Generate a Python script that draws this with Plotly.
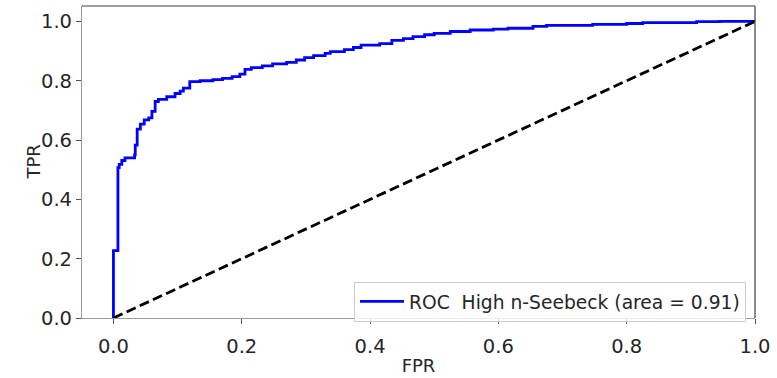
import numpy as np
import plotly.graph_objects as go

# ROC operating points (false positive rate, true positive rate)
fpr = [0.0, 0.0, 0.007, 0.009, 0.013, 0.018, 0.033, 0.034, 0.037, 0.042,
       0.048, 0.055, 0.060, 0.065, 0.070, 0.083, 0.096, 0.104, 0.109, 0.119,
       0.135, 0.155, 0.170, 0.185, 0.197, 0.205, 0.215, 0.232, 0.248, 0.270,
       0.285, 0.298, 0.312, 0.330, 0.338, 0.360, 0.374, 0.386, 0.415, 0.434,
       0.452, 0.467, 0.485, 0.500, 0.525, 0.556, 0.592, 0.615, 0.654, 0.675,
       0.747, 0.800, 0.825, 0.909, 0.945, 1.0]
tpr = [0.0, 0.227, 0.507, 0.518, 0.531, 0.540, 0.550, 0.583, 0.637, 0.654,
       0.668, 0.675, 0.697, 0.730, 0.737, 0.746, 0.757, 0.765, 0.775, 0.797,
       0.800, 0.804, 0.808, 0.814, 0.822, 0.838, 0.844, 0.850, 0.857, 0.862,
       0.870, 0.878, 0.885, 0.892, 0.898, 0.905, 0.912, 0.920, 0.925, 0.936,
       0.942, 0.949, 0.955, 0.960, 0.966, 0.971, 0.974, 0.977, 0.983, 0.987,
       0.990, 0.993, 0.996, 0.999, 1.0, 1.0]

chance_x = [0.0, 1.0]
chance_y = [0.0, 1.0]

# area under the step curve
f = np.array(fpr)
t = np.array(tpr)
roc_auc = float(np.sum(np.diff(f) * t[1:]))

x_ticks = [0.0, 0.2, 0.4, 0.6, 0.8, 1.0]
y_ticks = [0.0, 0.2, 0.4, 0.6, 0.8, 1.0]

FONT = "DejaVu Sans"
TXT = "#262626"

fig = go.Figure()
fig.add_trace(go.Scatter(
    x=fpr, y=tpr, mode="lines", line=dict(color="#0000ff", width=2.8, shape="hv"),
    name=f"ROC  High n-Seebeck (area = {roc_auc:.2f})",
))
fig.add_trace(go.Scatter(
    x=chance_x, y=chance_y, mode="lines",
    line=dict(color="black", width=2.8, dash="10px,4.5px"),
    showlegend=False,
))

fig.update_layout(
    width=777, height=378,
    margin=dict(l=82, r=22, t=6, b=49),
    paper_bgcolor="white", plot_bgcolor="white",
    font=dict(family=FONT, size=19, color=TXT),
    legend=dict(
        x=0.9866, y=-0.012, xanchor="right", yanchor="bottom",
        bgcolor="rgba(255,255,255,0.8)", bordercolor="#cccccc", borderwidth=1,
        font=dict(family=FONT, size=18.7, color=TXT),
        itemwidth=44,
    ),
    showlegend=True,
)
fig.update_xaxes(
    range=[-0.049, 1.0], tickvals=x_ticks, ticktext=[f"{v:.1f}" for v in x_ticks],
    showgrid=False, zeroline=False,
    showline=True, linecolor="#9a9a9a", linewidth=1.2,
    ticks="outside", ticklen=5, tickwidth=1, tickcolor="#555555",
    ticklabelstandoff=5,
    tickfont=dict(family=FONT, size=19.5, color=TXT),
    title=dict(text="FPR", font=dict(family=FONT, size=18, color=TXT), standoff=2),
)
fig.update_yaxes(
    range=[0.0, 1.052], tickvals=y_ticks, ticktext=[f"{v:.1f}" for v in y_ticks],
    showgrid=False, zeroline=False,
    showline=True, linecolor="#9a9a9a", linewidth=1.2,
    ticks="outside", ticklen=5, tickwidth=1, tickcolor="#555555",
    tickfont=dict(family=FONT, size=19.5, color=TXT),
)
# y-axis title placed beside the tick labels
fig.add_annotation(
    text="TPR", xref="paper", yref="paper", x=(32.5 - 82) / 673, y=0.5,
    xanchor="center", yanchor="middle", textangle=-90, showarrow=False,
    font=dict(family=FONT, size=18, color=TXT),
)
# darker top and right frame edges
fig.add_shape(type="line", xref="paper", yref="paper", x0=0, x1=1, y0=1, y1=1,
              line=dict(color="#404040", width=1.2))
fig.add_shape(type="line", xref="paper", yref="paper", x0=1, x1=1, y0=0, y1=1,
              line=dict(color="#404040", width=1.2))

fig.write_html("out.html")
